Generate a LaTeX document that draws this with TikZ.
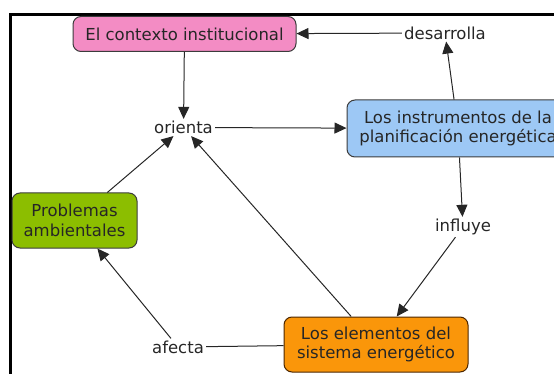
\documentclass[tikz,border=0pt]{standalone}
\usepackage{fontspec}
\setmainfont{DejaVu Sans}
\usepackage{xcolor}
\usetikzlibrary{arrows.meta}

\definecolor{pinkbox}{RGB}{243,140,196}
\definecolor{bluebox}{RGB}{157,200,245}
\definecolor{greenbox}{RGB}{140,190,0}
\definecolor{orangebox}{RGB}{250,150,10}
\definecolor{edgegray}{RGB}{60,60,60}

\tikzset{
	concept/.style={draw=edgegray, line width=1pt, rounded corners=8pt, align=center, inner sep=0pt, text=black!85},
	phrase/.style={inner sep=2pt, text=black!85},
	link/.style={draw=black!85, line width=1pt, -{Triangle[length=12pt,width=11pt]}},
	plainlink/.style={draw=black!85, line width=1pt},
}

\begin{document}
\begin{tikzpicture}[x=1pt, y=-1pt, font=\fontsize{16.5}{19.5}\selectfont]
		\useasboundingbox (0,0) rectangle (554,374);

		% marco
		\draw[line width=3pt] (10.5,380) -- (10.5,14.5) -- (570,14.5);

		% conceptos
		\node[concept, fill=pinkbox, minimum width=223pt, minimum height=35pt] (contexto) at (184.5, 34) {El contexto institucional};
		\node[concept, fill=bluebox, minimum width=222pt, minimum height=57pt] (instrumentos) at (458, 128.5) {Los instrumentos de la\\planificación energética};
		\node[concept, fill=greenbox, minimum width=125pt, minimum height=55pt] (problemas) at (74.5, 220.5) {Problemas\\ambientales};
		\node[concept, fill=orangebox, draw=black!70!orange, minimum width=184pt, minimum height=55pt] (elementos) at (376, 344.5) {Los elementos del\\sistema energético};

		% frases de enlace
		\node[phrase] (desarrolla) at (445, 33) {desarrolla};
		\node[phrase] (orienta) at (183.5, 127.5) {orienta};
		\node[phrase] (influye) at (463, 227) {influye};
		\node[phrase] (afecta) at (178, 347) {afecta};

		% enlaces
		\draw[link] (desarrolla) -- (contexto);
		\draw[link] (instrumentos) -- (desarrolla);
		\draw[link] (contexto) -- (orienta);
		\draw[link] (orienta) -- (instrumentos);
		\draw[link] (instrumentos) -- (influye);
		\draw[link] (influye) -- (elementos);
		\draw[link] (problemas) -- (orienta);
		\draw[link] (elementos) -- (orienta);
		\draw[plainlink] (elementos) -- (afecta);
		\draw[link] (afecta) -- (problemas);
	\end{tikzpicture}
\end{document}
